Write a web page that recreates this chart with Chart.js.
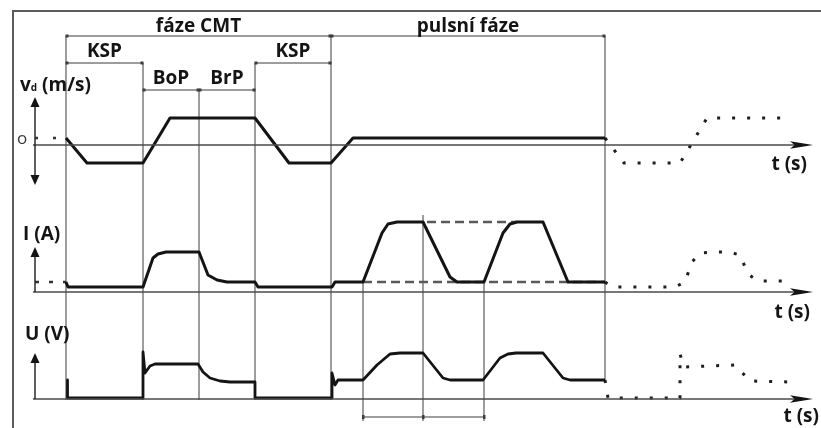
<!DOCTYPE html>
<html>
<head>
<meta charset="utf-8">
<script src="https://cdn.jsdelivr.net/npm/chart.js@4/dist/chart.umd.min.js"></script>
<style>
  html, body { margin: 0; padding: 0; background: #ffffff; }
  canvas { display: block; }
</style>
</head>
<body>
<canvas id="cmt" width="821" height="428"></canvas>
<script>
// ---- process timeline (time units) ----
const phaseNames = ['fáze CMT', 'pulsní fáze'];
const phaseSpans = [[0, 26.5], [26.5, 53.9]];
const stepNames = ['KSP', 'BoP', 'BrP', 'KSP'];
const stepSpans = [[0, 7.7], [7.7, 13.3], [13.3, 18.9], [18.9, 26.5]];
const pulseMarks = [29.7, 35.7, 41.8];
const timeAxisSpan = [-3.1, 74.7];
const leadIn = [-3.1, 0];

// ---- wire feed speed v_d (relative units) ----
const wireSpeed = [
  [0, 0], [2.1, -2.5], [7.7, -2.5], [10.4, 2.0], [18.9, 2.0],
  [22.3, -2.5], [26.5, -2.5], [28.7, 0], [53.9, 0]
];
const wireSpeedNext = [[53.9, 0], [55.8, -2.5], [61.4, -2.5], [64.1, 2.0], [71.6, 2.0]];

// ---- welding current I (relative units) ----
const current = [
  [0, 1.0], [0.2, 0.5], [7.7, 0.5], [8.7, 3.4], [9.2, 3.8], [10.0, 4.0],
  [13.3, 4.0], [14.2, 1.7], [15.1, 1.2], [16.1, 1.0], [18.9, 1.0],
  [19.2, 0.5], [26.6, 0.5], [26.9, 1.0], [29.7, 1.0],
  [31.6, 5.9], [32.2, 6.8], [33.1, 7.0], [35.7, 7.0], [38.4, 1.5], [39.1, 1.0],
  [41.8, 1.0], [43.7, 5.9], [44.4, 6.8], [45.1, 7.0], [47.7, 7.0], [50.2, 1.0], [53.9, 1.0]
];
const currentNext = [
  [53.9, 1.0], [54.6, 0.5], [60.9, 0.5], [61.9, 1.0], [62.6, 3.0], [63.4, 3.9],
  [64.7, 4.0], [66.3, 4.0], [67.4, 3.7], [68.2, 1.8], [69.2, 1.1], [72.2, 1.1]
];
const currentBase = 1.0;
const currentPeak = 7.0;
const baseDashSpan = [29.7, 53.9];
const peakDashSpan = [36.1, 45.1];

// ---- arc voltage U (relative units) ----
const voltage = [
  [0.15, 1.9], [0.15, 0.1], [7.7, 0.1], [7.7, 4.7], [7.9, 2.6], [8.4, 3.3], [8.9, 3.5],
  [13.2, 3.5], [13.7, 2.7], [14.4, 2.1], [15.4, 1.8], [16.4, 1.7], [18.9, 1.7],
  [18.9, 0.1], [26.6, 0.1], [26.6, 2.6], [26.9, 1.4], [27.2, 1.9], [29.7, 1.9],
  [31.1, 3.4], [32.4, 4.5], [33.4, 4.6], [35.7, 4.6], [37.7, 2.1], [38.4, 1.9],
  [41.7, 1.9], [43.4, 4.1], [44.2, 4.5], [45.0, 4.6], [47.7, 4.6], [49.7, 2.1],
  [50.4, 1.9], [53.9, 1.9]
];
const voltageNext = [
  [53.9, 1.9], [54.2, 0.1], [61.4, 0.1], [61.4, 4.5], [61.8, 3.2],
  [66.9, 3.4], [68.4, 1.8], [72.4, 1.7]
];

// ---- axis texts ----
const speedLabel = ['v', 'd', ' (m/s)'];
const currentLabel = 'I (A)';
const voltageLabel = 'U (V)';
const timeLabel = 't (s)';
const zeroLabel = 'o';

const FONT = "'Open Sans', 'DejaVu Sans', sans-serif";
const INK = '#141414';
const TEXT_SIZE = 19;

const toXY = arr => arr.map(([x, y]) => ({ x, y }));

function trace(data, axis, extra) {
  return Object.assign({
    data: toXY(data),
    yAxisID: axis,
    borderColor: INK,
    borderWidth: 3,
    pointRadius: 0,
    pointHoverRadius: 0,
    fill: false,
    tension: 0,
    borderJoinStyle: 'round',
    borderCapStyle: 'butt',
    order: 0
  }, extra || {});
}
const dotted = { borderDash: [3, 12], borderWidth: 3, borderColor: '#1e1e1e' };
const dashed = { borderDash: [9, 5], borderWidth: 2.5, borderColor: '#5a5a5a', order: 2 };

function strokeLine(ctx, x1, y1, x2, y2) {
  ctx.beginPath();
  ctx.moveTo(x1, y1);
  ctx.lineTo(x2, y2);
  ctx.stroke();
}

function arrowHead(ctx, tipX, tipY, dir, len, half) {
  // dir: 'right', 'up', 'down'
  ctx.beginPath();
  if (dir === 'right') {
    ctx.moveTo(tipX, tipY);
    ctx.lineTo(tipX - len, tipY - half);
    ctx.lineTo(tipX - len * 0.8, tipY);
    ctx.lineTo(tipX - len, tipY + half);
  } else if (dir === 'up') {
    ctx.moveTo(tipX, tipY);
    ctx.lineTo(tipX - half, tipY + len);
    ctx.lineTo(tipX + half, tipY + len);
  } else {
    ctx.moveTo(tipX, tipY);
    ctx.lineTo(tipX - half, tipY - len);
    ctx.lineTo(tipX + half, tipY - len);
  }
  ctx.closePath();
  ctx.fill();
}

// Frame, phase brackets and boundary lines behind the traces
const phaseGuides = {
  id: 'phaseGuides',
  beforeDatasetsDraw(chart) {
    const { ctx } = chart;
    const { x, yI, yU } = chart.scales;
    const tx = t => x.getPixelForValue(t);
    ctx.save();

    // outer frame: top and left edges
    ctx.strokeStyle = '#5c5c5c';
    ctx.lineWidth = 2;
    ctx.beginPath();
    ctx.moveTo(13, chart.height);
    ctx.lineTo(13, 11);
    ctx.lineTo(chart.width, 11);
    ctx.stroke();

    const phaseRow = 36;
    const stepRows = [63, 90, 90, 63];
    const floor = yU.getPixelForValue(0) + 1;
    const lastT = phaseSpans[phaseSpans.length - 1][1];

    // vertical boundaries, each starting at its highest bracket
    const edges = new Map();
    const addEdge = (t, top) => edges.set(t, Math.min(top, edges.has(t) ? edges.get(t) : Infinity));
    phaseSpans.forEach(s => { addEdge(s[0], phaseRow); addEdge(s[1], phaseRow); });
    stepSpans.forEach((s, i) => { addEdge(s[0], stepRows[i]); addEdge(s[1], stepRows[i]); });

    ctx.strokeStyle = '#7c7c7c';
    ctx.lineWidth = 1.5;
    edges.forEach((top, t) => {
      const bottom = t === lastT ? yU.getPixelForValue(voltage[voltage.length - 1][1]) : floor;
      strokeLine(ctx, tx(t), top, tx(t), bottom);
    });

    // bracket bars
    const bar = (s, row) => {
      ctx.strokeStyle = '#7c7c7c';
      ctx.lineWidth = 1.5;
      strokeLine(ctx, tx(s[0]), row, tx(s[1]), row);
      ctx.fillStyle = '#3c3c3c';
      ctx.fillRect(tx(s[0]) - 0.5, row - 1.5, 3, 3);
      ctx.fillRect(tx(s[1]) - 2.5, row - 1.5, 3, 3);
    };
    phaseSpans.forEach(s => bar(s, phaseRow));
    stepSpans.forEach((s, i) => bar(s, stepRows[i]));

    // pulse period marks and their measuring bar
    const markBottom = 421;
    const markTops = [
      yI.getPixelForValue(currentBase),
      yI.getPixelForValue(currentPeak) - 7,
      yI.getPixelForValue(currentBase)
    ];
    ctx.strokeStyle = '#7c7c7c';
    ctx.lineWidth = 1.5;
    pulseMarks.forEach((t, i) => strokeLine(ctx, tx(t), markTops[i], tx(t), markBottom));
    const measureRow = 417;
    strokeLine(ctx, tx(pulseMarks[0]), measureRow, tx(pulseMarks[pulseMarks.length - 1]), measureRow);
    ctx.fillStyle = '#3c3c3c';
    pulseMarks.forEach(t => ctx.fillRect(tx(t) - 1, measureRow - 2, 2.5, 4));

    // phase and step names
    ctx.fillStyle = INK;
    ctx.textAlign = 'center';
    ctx.textBaseline = 'alphabetic';
    ctx.font = `bold ${TEXT_SIZE}px ${FONT}`;
    phaseSpans.forEach((s, i) => ctx.fillText(phaseNames[i], (tx(s[0]) + tx(s[1])) / 2, phaseRow - 4));
    stepSpans.forEach((s, i) => ctx.fillText(stepNames[i], (tx(s[0]) + tx(s[1])) / 2, stepRows[i] - 6));

    ctx.restore();
  },

  // Axes with arrows and axis names above the traces
  afterDatasetsDraw(chart) {
    const { ctx } = chart;
    const { x, yV, yI, yU } = chart.scales;
    const tx = t => x.getPixelForValue(t);
    ctx.save();

    const x0 = tx(timeAxisSpan[0]);
    const xTip = tx(timeAxisSpan[1]);
    const timeAxes = [yV.getPixelForValue(-0.7), yI.getPixelForValue(0), yU.getPixelForValue(0)];

    timeAxes.forEach(y => {
      ctx.strokeStyle = '#4a4a4a';
      ctx.lineWidth = 1.5;
      strokeLine(ctx, x0 - 2, y, xTip - 10, y);
      ctx.fillStyle = INK;
      arrowHead(ctx, xTip, y, 'right', 23, 3.8);
    });

    // value axes
    ctx.strokeStyle = '#2a2a2a';
    ctx.lineWidth = 1.5;
    ctx.fillStyle = INK;
    const vTop = yV.getPixelForValue(4.1), vBot = yV.getPixelForValue(-4.7);
    strokeLine(ctx, x0, vTop + 6, x0, vBot - 6);
    arrowHead(ctx, x0, vTop, 'up', 10, 4.5);
    arrowHead(ctx, x0, vBot, 'down', 10, 4.5);

    const iTop = yI.getPixelForValue(4.5);
    strokeLine(ctx, x0, timeAxes[1], x0, iTop + 6);
    arrowHead(ctx, x0, iTop, 'up', 10, 4.5);

    const uTop = yU.getPixelForValue(4.6);
    strokeLine(ctx, x0, timeAxes[2], x0, uTop + 6);
    arrowHead(ctx, x0, uTop, 'up', 10, 4.5);

    // zero mark of the speed axis
    ctx.fillStyle = '#3a3a3a';
    ctx.font = `17px ${FONT}`;
    ctx.textAlign = 'center';
    ctx.textBaseline = 'middle';
    ctx.fillText(zeroLabel, 22, yV.getPixelForValue(0) + 1);

    // axis names
    ctx.fillStyle = INK;
    ctx.textAlign = 'left';
    ctx.textBaseline = 'alphabetic';
    ctx.font = `bold ${TEXT_SIZE}px ${FONT}`;
    let lx = 20;
    const vBase = yV.getPixelForValue(0) - 47;
    ctx.fillText(speedLabel[0], lx, vBase);
    lx += ctx.measureText(speedLabel[0]).width;
    ctx.font = `bold 10px ${FONT}`;
    ctx.fillText(speedLabel[1], lx, vBase);
    lx += ctx.measureText(speedLabel[1]).width;
    ctx.font = `bold ${TEXT_SIZE}px ${FONT}`;
    ctx.fillText(speedLabel[2], lx, vBase);

    ctx.fillText(currentLabel, 23, yI.getPixelForValue(0) - 52);
    ctx.fillText(voltageLabel, 25, yU.getPixelForValue(0) - 59);

    ctx.textAlign = 'right';
    ctx.fillText(timeLabel, 807, timeAxes[0] + 25);
    ctx.fillText(timeLabel, 810, timeAxes[1] + 26);
    ctx.fillText(timeLabel, 819, timeAxes[2] + 23);

    ctx.restore();
  }
};

new Chart(document.getElementById('cmt'), {
  type: 'line',
  data: {
    datasets: [
      trace(wireSpeed, 'yV'),
      trace(wireSpeedNext, 'yV', dotted),
      trace([[leadIn[0], 0], [leadIn[1], 0]], 'yV', { borderDash: [3, 15], borderWidth: 2.5, borderColor: '#333', order: 2 }),
      trace(current, 'yI'),
      trace(currentNext, 'yI', dotted),
      trace([[baseDashSpan[0], currentBase], [baseDashSpan[1], currentBase]], 'yI', dashed),
      trace([[peakDashSpan[0], currentPeak], [peakDashSpan[1], currentPeak]], 'yI', dashed),
      trace([[leadIn[0], currentBase], [leadIn[1], currentBase]], 'yI', { borderDash: [4, 10], borderWidth: 2.5, borderColor: '#333', order: 2 }),
      trace(voltage, 'yU', { borderWidth: 2.8 }),
      trace(voltageNext, 'yU', dotted)
    ]
  },
  options: {
    responsive: false,
    animation: false,
    devicePixelRatio: 1,
    layout: { padding: 0 },
    events: [],
    plugins: {
      legend: { display: false },
      tooltip: { enabled: false },
      title: { display: false }
    },
    scales: {
      x: { type: 'linear', min: -6.6, max: 75.5, display: false },
      yV: { type: 'linear', position: 'left', min: -29.0, max: 13.8, display: false },
      yI: { type: 'linear', position: 'left', min: -13.6, max: 29.2, display: false },
      yU: { type: 'linear', position: 'left', min: -2.9, max: 39.9, display: false }
    }
  },
  plugins: [phaseGuides]
});
</script>
</body>
</html>
